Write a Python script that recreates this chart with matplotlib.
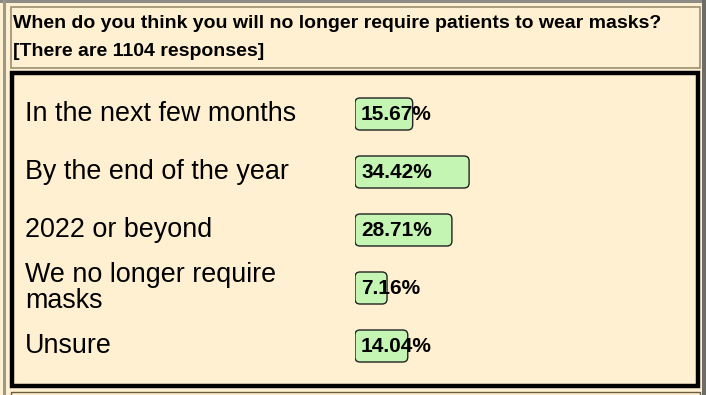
import matplotlib
matplotlib.use("Agg")
import matplotlib.pyplot as plt
from matplotlib.patches import FancyBboxPatch, Rectangle

title_lines = ["When do you think you will no longer require patients to wear masks?",
               "[There are 1104 responses]"]
categories = ["In the next few months", "By the end of the year", "2022 or beyond",
              "We no longer require\nmasks", "Unsure"]
percents = [15.67, 34.42, 28.71, 7.16, 14.04]

W, H = 706, 395
DPI = 100
BG = "#FFF0D1"
BAR = "#C4F5B2"

fig = plt.figure(figsize=(W / DPI, H / DPI), dpi=DPI, facecolor=BG)

# frame axes in pixel coordinates
fa = fig.add_axes([0, 0, 1, 1])
fa.set_xlim(0, W)
fa.set_ylim(H, 0)
fa.axis("off")
fa.set_facecolor(BG)

# outer gray frame
fa.add_patch(Rectangle((0, 0), W, 2.5, color="#8C8C84", lw=0))
fa.add_patch(Rectangle((3, 0), 2.5, H, color="#9A9888", lw=0))
fa.add_patch(Rectangle((702, 0), 4, H, color="#6E6C66", lw=0))
# title box
fa.add_patch(Rectangle((10.5, 6.5), 689, 61, fill=False, ec="#9C8E70", lw=1.2))
fa.text(13, 23, title_lines[0], fontsize=14, fontweight="bold", family="Liberation Sans",
        va="center", ha="left", color="#000000")
fa.text(13, 51, title_lines[1], fontsize=14, fontweight="bold", family="Liberation Sans",
        va="center", ha="left", color="#000000")
# main thick box
fa.add_patch(Rectangle((12, 73), 686, 313, fill=False, ec="#000000", lw=3.2))
# next box beginning
fa.add_patch(Rectangle((10.5, 391.5), 689, 20, fill=False, ec="#6E5E40", lw=1.0))

# bar axes: x in percent, y in rows
px_per_pct = 3.01
row_px = 58.0
left_px, right_px = 355, 690
top_px = 85
n = len(categories)
bottom_px = top_px + n * row_px
ba = fig.add_axes([left_px / W, 1 - bottom_px / H, (right_px - left_px) / W, (bottom_px - top_px) / H])
ba.set_xlim(0, (right_px - left_px) / px_per_pct)
ba.set_ylim(n - 0.5, -0.5)
ba.axis("off")
ba.patch.set_alpha(0)

pad_pct = 10.5 / px_per_pct
bar_h = 32 / row_px
r = 5 / px_per_pct
aspect = px_per_pct / row_px
for i, (cat, v) in enumerate(zip(categories, percents)):
    ba.add_patch(FancyBboxPatch((0, i - bar_h / 2), v + pad_pct, bar_h,
                                boxstyle=f"round,pad=0,rounding_size={r}",
                                mutation_aspect=aspect,
                                fc=BAR, ec="#222222", lw=1.0))
    ba.text(6 / px_per_pct, i + 0.01, f"{v:.2f}%", fontsize=15, fontweight="bold",
            family="Liberation Sans", va="center", ha="left", color="#000000")
    # label at left, in pixel x
    y_px = top_px + (i + 0.5) * row_px
    fa.text(25, y_px, cat, fontsize=19.4, family="Liberation Sans", va="center", ha="left",
            color="#000000", linespacing=1.0)

fig.savefig("out.png", dpi=DPI, facecolor=BG)
